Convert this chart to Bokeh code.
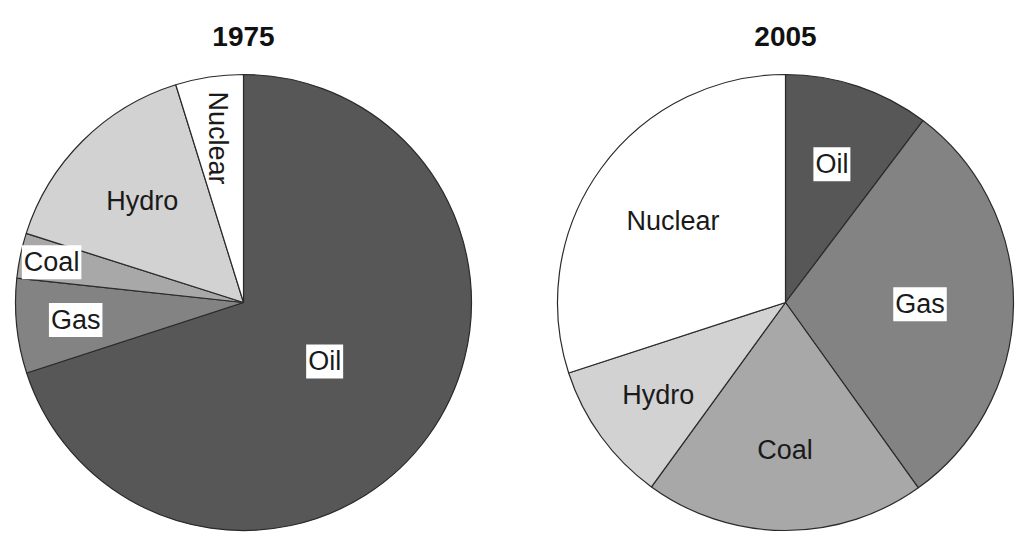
import numpy as np
from bokeh.plotting import figure
from bokeh.models import ColumnDataSource, Range1d
from bokeh.core.properties import value
from bokeh.embed import file_html
from bokeh.resources import INLINE

# ---- data ----
sources = ["Oil", "Gas", "Coal", "Hydro", "Nuclear"]
share_1975 = [70.0, 6.7, 3.2, 15.3, 4.8]
share_2005 = [10.3, 29.8, 19.9, 10.0, 30.0]
years = ["1975", "2005"]

# ---- styling / layout ----
colors = ["#575757", "#838383", "#a8a8a8", "#d2d2d2", "#ffffff"]
W, H = 1017, 541
centers = [(243, H - 302), (785, H - 302)]
R = 228
label_r = {"1975": [0.44, 0.74, 0.86, 0.63, 0.73],
           "2005": [0.64, 0.59, 0.645, 0.69, 0.61]}
label_box = {"1975": [True, True, True, False, False],
             "2005": [True, True, False, False, False]}
label_rot = {"1975": [0, 0, 0, 0, -np.pi / 2],
             "2005": [0, 0, 0, 0, 0]}

p = figure(width=W, height=H, output_backend="svg", toolbar_location=None,
           x_range=Range1d(0, W), y_range=Range1d(0, H),
           x_axis_location=None, y_axis_location=None, min_border=0)
p.grid.visible = False
p.outline_line_color = None
p.background_fill_color = "white"
p.border_fill_color = "white"

FONT = value("Liberation Sans")

for year, shares, (cx, cy) in zip(years, [share_1975, share_2005], centers):
    s = np.array(shares, dtype=float)
    frac = s / s.sum()
    cum = np.concatenate([[0], np.cumsum(frac)])
    start = np.pi / 2 - cum[:-1] * 2 * np.pi
    end = np.pi / 2 - cum[1:] * 2 * np.pi
    src = ColumnDataSource(dict(start=start, end=end, color=colors,
                                name=sources))
    p.wedge(x=cx, y=cy, radius=R, start_angle="start", end_angle="end",
            direction="clock", fill_color="color", line_color="#2a2a2a",
            line_width=1.2, source=src)

    mid = (start + end) / 2
    rr = np.array(label_r[year]) * R
    lx = cx + rr * np.cos(mid)
    ly = cy + rr * np.sin(mid)
    box = np.array(label_box[year])
    rot = np.array(label_rot[year])
    for flag in (True, False):
        idx = np.where(box == flag)[0]
        if len(idx) == 0:
            continue
        lsrc = ColumnDataSource(dict(x=lx[idx], y=ly[idx],
                                     t=[sources[i] for i in idx],
                                     a=rot[idx]))
        kw = dict(background_fill_color="white", padding=2) if flag else {}
        p.text(x="x", y="y", text="t", angle="a", source=lsrc,
               text_align="center", text_baseline="middle",
               text_font=FONT, text_font_size="27px", text_color="#1a1a1a",
               **kw)

    p.text(x=[cx], y=[H - 36], text=[year], text_align="center",
           text_baseline="middle", text_font=FONT, text_font_size="28px",
           text_font_style="bold", text_color="#111111")

open("out.html", "w").write(file_html(p, INLINE))
